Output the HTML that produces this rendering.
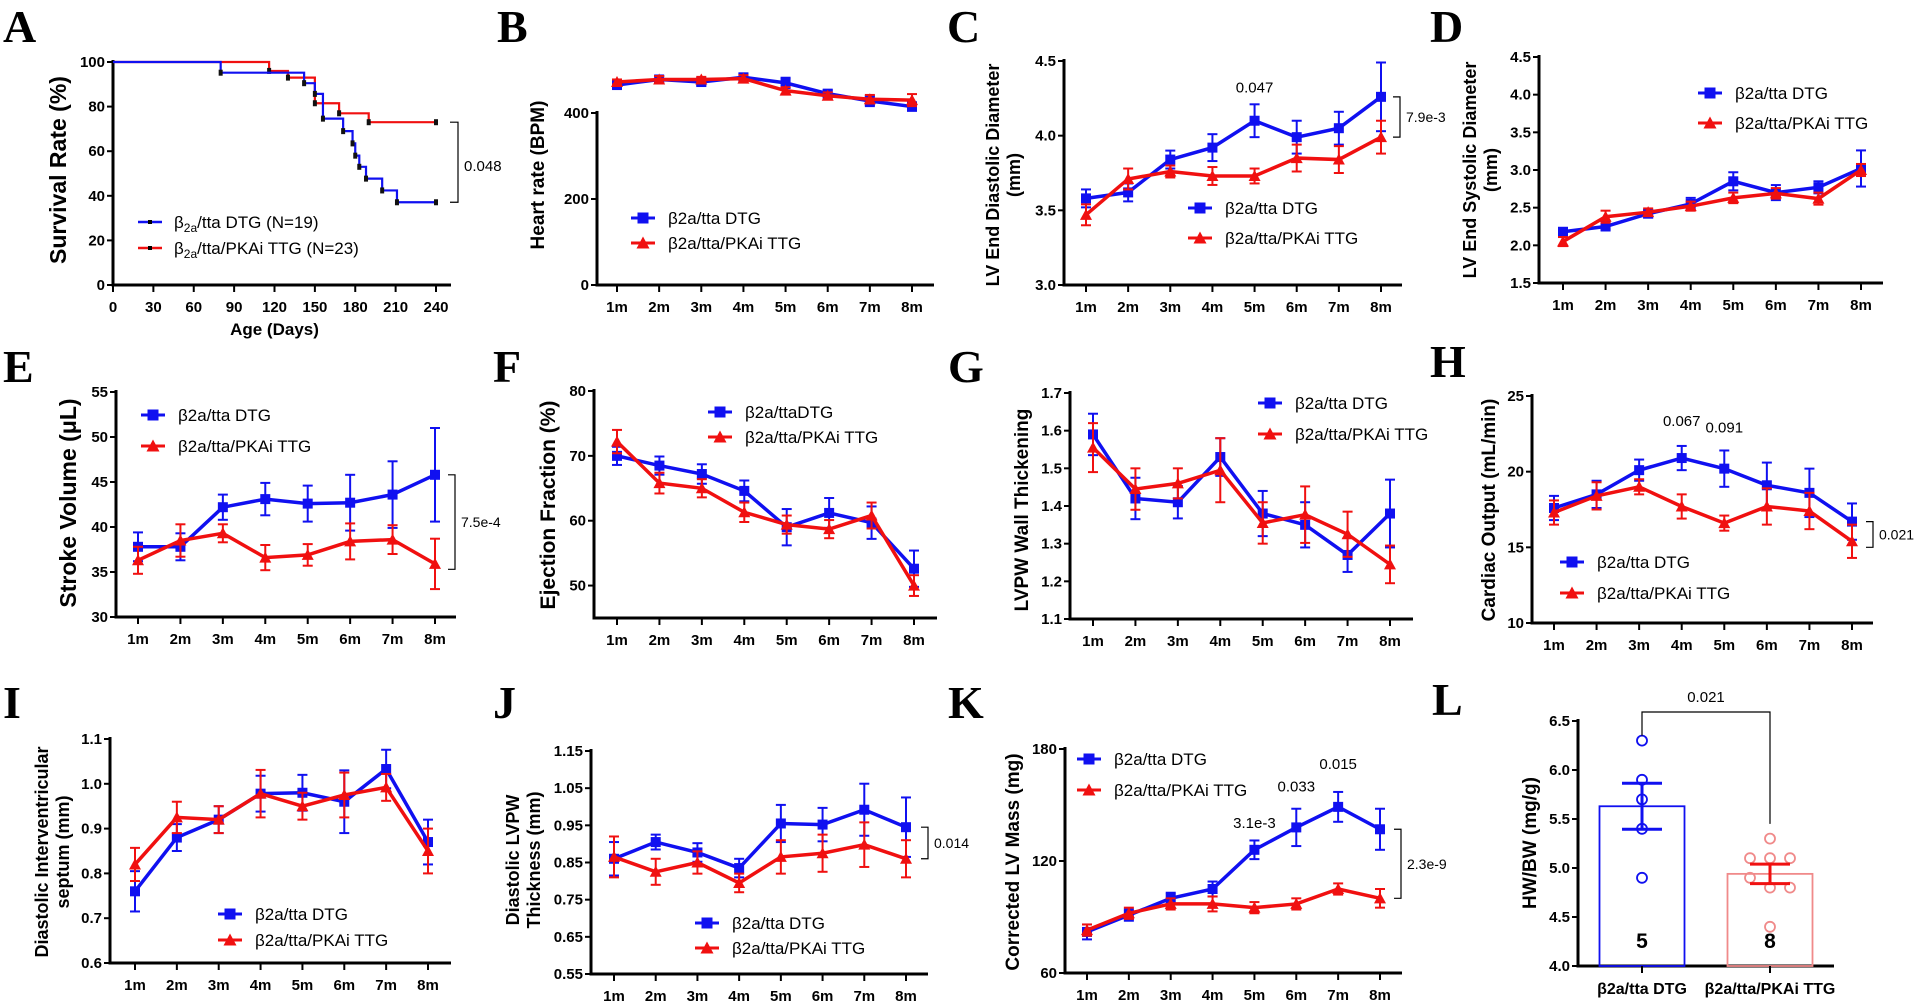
<!DOCTYPE html>
<html><head><meta charset="utf-8"><style>
html,body{margin:0;padding:0;background:#fff;}
svg{display:block;font-family:"Liberation Sans Narrow","Liberation Sans",sans-serif;}
.tick{font-weight:bold;font-size:15px;fill:#000;}
.ytitle{font-family:"Liberation Sans",sans-serif;font-weight:bold;fill:#000;}
.leg{font-size:17px;fill:#000;}
.letter{font-family:"Liberation Serif",serif;font-weight:bold;font-size:46px;fill:#000;}
.ann{font-size:15px;fill:#000;}
</style></head><body>
<svg id="fig" width="1920" height="1002" viewBox="0 0 1920 1002" xmlns="http://www.w3.org/2000/svg"></svg>
<script>
const months = ["1m","2m","3m","4m","5m","6m","7m","8m"];
// A survival
const survTicksX = [0,30,60,90,120,150,180,210,240];
const survTicksY = [0,20,40,60,80,100];
const survBlueT = [0,80,142,150,156,171,178,180,183,188,200,211,240];
const survBlueV = [100,95.2,90.5,85.7,74.6,69,63.5,58,53,47.7,42.4,37.1,37.1];
const survRedT = [0,116,130,150,168,190,240];
const survRedV = [100,96,93,81.5,77,73,73];
// B
const hrBlue = [465,478,472,483,470,445,428,415];
const hrBlueErr = [8,8,8,8,12,8,12,10];
const hrRed = [472,478,478,480,452,440,432,430];
const hrRedErr = [6,8,6,8,8,8,10,14];
// C
const lvedBlue = [3.58,3.62,3.84,3.92,4.10,3.99,4.05,4.26];
const lvedBlueErr = [0.06,0.06,0.06,0.09,0.11,0.11,0.11,0.23];
const lvedRed = [3.47,3.71,3.76,3.73,3.73,3.85,3.84,3.99];
const lvedRedErr = [0.07,0.07,0.04,0.06,0.05,0.09,0.09,0.11];
// D
const lvesBlue = [2.18,2.25,2.42,2.55,2.85,2.70,2.77,3.02];
const lvesBlueErr = [0.05,0.04,0.05,0.08,0.12,0.10,0.08,0.24];
const lvesRed = [2.05,2.38,2.44,2.52,2.63,2.69,2.62,3.00];
const lvesRedErr = [0.06,0.08,0.05,0.06,0.07,0.07,0.08,0.08];
// E
const svBlue = [37.8,37.8,42.2,43.1,42.6,42.7,43.6,45.8];
const svBlueErr = [1.6,1.5,1.4,1.8,2.0,3.1,3.7,5.2];
const svRed = [36.3,38.5,39.3,36.6,36.9,38.4,38.6,35.9];
const svRedErr = [1.5,1.8,1.0,1.4,1.2,2.0,1.6,2.8];
// F
const efBlue = [70,68.5,67.2,64.6,59,61.2,59.7,52.6];
const efBlueErr = [1.4,1.4,1.5,1.6,2.8,2.3,2.5,2.8];
const efRed = [72.2,65.8,65,61.3,59.4,58.7,60.8,50];
const efRedErr = [1.8,1.6,1.4,1.5,1.4,1.4,2.0,1.6];
// G
const wtBlue = [1.59,1.42,1.41,1.53,1.38,1.35,1.27,1.38];
const wtBlueErr = [0.055,0.055,0.043,0.05,0.06,0.06,0.045,0.09];
const wtRed = [1.555,1.445,1.46,1.495,1.355,1.377,1.325,1.245];
const wtRedErr = [0.065,0.055,0.04,0.085,0.055,0.075,0.06,0.05];
// H
const coBlue = [17.6,18.5,20.1,20.9,20.2,19.1,18.6,16.7];
const coBlueErr = [0.8,0.9,0.7,0.8,1.2,1.5,1.6,1.2];
const coRed = [17.3,18.4,19.0,17.7,16.6,17.7,17.4,15.4];
const coRedErr = [0.8,0.9,0.5,0.8,0.5,1.2,1.2,1.1];
// I
const ivsBlue = [0.76,0.88,0.92,0.978,0.98,0.96,1.033,0.87];
const ivsBlueErr = [0.045,0.03,0.03,0.04,0.04,0.07,0.043,0.05];
const ivsRed = [0.82,0.925,0.92,0.978,0.95,0.975,0.992,0.85];
const ivsRedErr = [0.037,0.035,0.03,0.053,0.03,0.05,0.03,0.05];
// J
const lvpwBlue = [0.86,0.905,0.877,0.835,0.955,0.952,0.992,0.945];
const lvpwBlueErr = [0.045,0.02,0.025,0.025,0.05,0.045,0.07,0.08];
const lvpwRed = [0.865,0.825,0.85,0.795,0.865,0.875,0.898,0.86];
const lvpwRedErr = [0.055,0.035,0.03,0.025,0.045,0.05,0.06,0.05];
// K
const massBlue = [82,91,100,105,126,138,149,137];
const massBlueErr = [4,3,3,4,5,10,8,11];
const massRed = [83,92,97,97,95,97,105,100];
const massRedErr = [3,3,3,4,3,3,3,5];
// L
const hwGroups = ["β2a/tta DTG","β2a/tta/PKAi TTG"];
const hwMeans = [5.63,4.94];
const hwSem = [0.235,0.1];
const hwBluePts = [6.3,5.9,5.7,5.4,4.9];
const hwRedPts = [5.3,5.1,5.1,5.1,4.9,4.8,4.8,4.4];
const hwCounts = ["5","8"];

const NS="http://www.w3.org/2000/svg";
const fig=document.getElementById('fig');
const BLUE="#1010f0", RED="#f01010";
function mk(tag,attrs,parent,txt){const e=document.createElementNS(NS,tag);for(const k in attrs)e.setAttribute(k,attrs[k]);if(txt!==undefined)e.textContent=txt;(parent||fig).appendChild(e);return e;}

function letter(ch,x,y){
  const t=mk('text',{x:x,y:y,class:'letter'},fig,ch);
  
  
}
function ytitle(g,lines,x,yc,size){
  lines.forEach((l,i)=>{
    const tx=x+i*21;
    const t=mk('text',{x:tx,y:yc,class:'ytitle',transform:`rotate(-90 ${tx} ${yc})`,'text-anchor':'middle',style:`font-size:${size||17}px`},g,l);
    
    
  });
}
function marker(g,type,x,y,col,s){
  if(type==='sq'){const m=mk('rect',{x:x-s/2,y:y-s/2,width:s,height:s,fill:col},g);return m;}
  const m=mk('polygon',{points:`${x},${y-s/2-1} ${x-s/2-1},${y+s/2} ${x+s/2+1},${y+s/2}`,fill:col},g);return m;
}
function legend(g,x,y1,y2,tx,t1,t2){
  [[y1,BLUE,'sq',t1],[y2,RED,'tri',t2]].forEach(([y,c,ty,t],i)=>{
    const lg=mk('g',{},g);
    
    
    mk('line',{x1:x-12,y1:y,x2:x+12,y2:y,stroke:c,'stroke-width':3},lg);
    marker(lg,ty,x,y,c,11);
    mk('text',{x:tx,y:y+6,class:'leg'},lg,t);
  });
}
function linePanel(c){
  const g=mk('g',{});
  
  
  const ys=v=>c.py0+(v-c.min)/(c.max-c.min)*(c.py1-c.py0);
  const xs=i=>c.p1+i*(c.p8-c.p1)/7;
  const ax=mk('path',{d:`M${c.ax},${ys(c.max)-2} L${c.ax},${c.py0} L${c.xend},${c.py0}`,fill:'none',stroke:'#000','stroke-width':3},g);
  
  
  c.ticks.forEach(v=>{
    const y=ys(v);
    mk('line',{x1:c.ax-6,y1:y,x2:c.ax,y2:y,stroke:'#000','stroke-width':2},g);
    const t=mk('text',{x:c.ax-8,y:y+5,class:'tick','text-anchor':'end'},g,c.fmt?c.fmt(v):v);
    
    
  });
  months.forEach((m,i)=>{
    const x=xs(i);
    mk('line',{x1:x,y1:c.py0,x2:x,y2:c.py0+7,stroke:'#000','stroke-width':2},g);
    const t=mk('text',{x:x,y:c.py0+27,class:'tick','text-anchor':'middle'},g,m);
    
    
  });
  [[c.blue,c.blueErr,BLUE,'sq','dtg'],[c.red,c.redErr,RED,'tri','ttg']].forEach(([vals,errs,col,ty,nm])=>{
    const sg=mk('g',{},g);
    
    
    vals.forEach((v,i)=>{
      const x=xs(i),a=ys(v+errs[i]),b=ys(v-errs[i]);
      mk('line',{x1:x,y1:a,x2:x,y2:b,stroke:col,'stroke-width':2},sg);
      mk('line',{x1:x-5,y1:a,x2:x+5,y2:a,stroke:col,'stroke-width':2},sg);
      mk('line',{x1:x-5,y1:b,x2:x+5,y2:b,stroke:col,'stroke-width':2},sg);
    });
    const ln=mk('polyline',{points:vals.map((v,i)=>xs(i)+','+ys(v)).join(' '),fill:'none',stroke:col,'stroke-width':3.5},sg);
    
    
    vals.forEach((v,i)=>{
      const m=marker(sg,ty,xs(i),ys(v),col,10);
      
      
    });
  });
  ytitle(g,c.title,c.tx,c.tyc,c.tsize);
  legend(g,c.lx,c.ly1,c.ly2,c.lx+25,c.l1||'β2a/tta DTG',c.l2||'β2a/tta/PKAi TTG');
  (c.ann||[]).forEach(a=>{
    const t=mk('text',{x:xs(a.i),y:ys(a.v)-a.dy,class:'ann','text-anchor':'middle'},g,a.t);
    
    
  });
  if(c.br){
    const y1=ys(c.br.v1),y2=ys(c.br.v2),bx=c.br.x;
    const b=mk('path',{d:`M${bx-7},${y1} L${bx},${y1} L${bx},${y2} L${bx-7},${y2}`,fill:'none',stroke:'#000','stroke-width':1.2},g);
    
    
    const t=mk('text',{x:bx+6,y:(y1+y2)/2+5,class:'ann',style:'font-size:14px'},g,c.br.t);
    
    
  }
}

// ---- Panel A
(function(){
  const g=mk('g',{});
  
  
  const x0=113,x1=436,y0=285,y1=62;
  const xs=d=>x0+d/240*(x1-x0), ys=v=>y0-v/100*(y0-y1);
  mk('path',{d:`M${x0},${y1-2} L${x0},${y0} L451,${y0}`,fill:'none',stroke:'#000','stroke-width':3},g);
  survTicksY.forEach(v=>{const y=ys(v);mk('line',{x1:x0-6,y1:y,x2:x0,y2:y,stroke:'#000','stroke-width':2},g);
    const t=mk('text',{x:x0-8,y:y+5,class:'tick','text-anchor':'end'},g,v);});
  survTicksX.forEach(v=>{const x=xs(v);mk('line',{x1:x,y1:y0,x2:x,y2:y0+7,stroke:'#000','stroke-width':2},g);
    const t=mk('text',{x:x,y:y0+27,class:'tick','text-anchor':'middle'},g,v);});
  const xt=mk('text',{x:(x0+x1)/2,y:335,class:'tick','text-anchor':'middle',style:'font-size:17px'},g,'Age (Days)');
  
  [[survRedT,survRedV,RED,'ttg'],[survBlueT,survBlueV,BLUE,'dtg']].forEach(([T,V,col,nm])=>{
    let d=`M${xs(T[0])},${ys(V[0])}`;
    for(let i=1;i<T.length;i++){d+=` L${xs(T[i])},${ys(V[i-1])} L${xs(T[i])},${ys(V[i])}`;}
    const p=mk('path',{d:d,fill:'none',stroke:col,'stroke-width':2.2},g);
    
    for(let i=1;i<T.length;i++){const m=mk('rect',{x:xs(T[i])-2,y:ys(V[i])-3,width:4,height:6,fill:'#111'},g);
      }
  });
  const b=mk('path',{d:`M${450},${ys(73)} L458,${ys(73)} L458,${ys(37.1)} L450,${ys(37.1)}`,fill:'none',stroke:'#000','stroke-width':1.2},g);
  
  const pl=mk('text',{x:464,y:171,class:'ann'},g,'0.048');
  ytitle(g,['Survival  Rate (%)'],66,170,23);
  [[222,BLUE,'β','2a','/tta DTG (N=19)'],[248,RED,'β','2a','/tta/PKAi TTG  (N=23)']].forEach(([y,c,a,s,r],i)=>{
    const lg=mk('g',{},g);
    
    
    mk('line',{x1:138,y1:y,x2:162,y2:y,stroke:c,'stroke-width':2.5},lg);
    mk('rect',{x:148,y:y-2,width:4,height:4,fill:'#000'},lg);
    const t=mk('text',{x:174,y:y+6,class:'leg'},lg);
    mk('tspan',{},t,a);mk('tspan',{style:'font-size:12px',dy:4},t,s);mk('tspan',{dy:-4},t,r);
  });
})();

linePanel({name:'panel-b-heart-rate',ax:597,xend:934,py0:285,py1:113,min:0,max:400,ticks:[0,200,400],p1:617,p8:912,
  blue:hrBlue,blueErr:hrBlueErr,red:hrRed,redErr:hrRedErr,title:['Heart rate (BPM)'],tx:544,tyc:175,tsize:19,
  lx:643,ly1:218,ly2:243,l1:'β2a/tta DTG'});
linePanel({name:'panel-c-lved',ax:1064,xend:1402,py0:285,py1:61,min:3.0,max:4.5,ticks:[3.0,3.5,4.0,4.5],fmt:v=>v.toFixed(1),p1:1086,p8:1381,
  blue:lvedBlue,blueErr:lvedBlueErr,red:lvedRed,redErr:lvedRedErr,title:['LV End Diastolic Diameter','(mm)'],tx:999,tyc:175,tsize:18,
  lx:1200,ly1:208,ly2:238,ann:[{i:4,v:4.10,dy:28,t:'0.047'}],br:{x:1400,v1:4.26,v2:3.99,t:'7.9e-3'}});
linePanel({name:'panel-d-lves',ax:1539,xend:1883,py0:283,py1:57,min:1.5,max:4.5,ticks:[1.5,2.0,2.5,3.0,3.5,4.0,4.5],fmt:v=>v.toFixed(1),p1:1563,p8:1861,
  blue:lvesBlue,blueErr:lvesBlueErr,red:lvesRed,redErr:lvesRedErr,title:['LV End Systolic Diameter','(mm)'],tx:1476,tyc:170,tsize:18,
  lx:1710,ly1:93,ly2:123});
linePanel({name:'panel-e-stroke-volume',ax:116,xend:456,py0:617,py1:392,min:30,max:55,ticks:[30,35,40,45,50,55],p1:138,p8:435,
  blue:svBlue,blueErr:svBlueErr,red:svRed,redErr:svRedErr,title:['Stroke Volume (μL)'],tx:76,tyc:503,tsize:23,
  lx:153,ly1:415,ly2:446,br:{x:455,v1:45.8,v2:35.3,t:'7.5e-4'}});
linePanel({name:'panel-f-ejection-fraction',ax:594,xend:937,py0:618,py1:391,min:45,max:80,ticks:[50,60,70,80],p1:617,p8:914,
  blue:efBlue,blueErr:efBlueErr,red:efRed,redErr:efRedErr,title:['Ejection Fraction (%)'],tx:555,tyc:505,tsize:21,
  lx:720,ly1:412,ly2:437,l1:'β2a/ttaDTG'});
linePanel({name:'panel-g-wall-thickening',ax:1070,xend:1413,py0:619,py1:393,min:1.1,max:1.7,ticks:[1.1,1.2,1.3,1.4,1.5,1.6,1.7],fmt:v=>v.toFixed(1),p1:1093,p8:1390,
  blue:wtBlue,blueErr:wtBlueErr,red:wtRed,redErr:wtRedErr,title:['LVPW Wall Thickening'],tx:1028,tyc:510,tsize:19,
  lx:1270,ly1:403,ly2:434});
linePanel({name:'panel-h-cardiac-output',ax:1532,xend:1873,py0:623,py1:396,min:10,max:25,ticks:[10,15,20,25],p1:1554,p8:1852,
  blue:coBlue,blueErr:coBlueErr,red:coRed,redErr:coRedErr,title:['Cardiac Output (mL/min)'],tx:1495,tyc:510,tsize:19,
  lx:1572,ly1:562,ly2:593,ann:[{i:3,v:20.9,dy:32,t:'0.067'},{i:4,v:20.2,dy:36,t:'0.091'}],br:{x:1873,v1:16.7,v2:15.0,t:'0.021'}});
linePanel({name:'panel-i-ivs',ax:110,xend:451,py0:963,py1:739,min:0.6,max:1.1,ticks:[0.6,0.7,0.8,0.9,1.0,1.1],fmt:v=>v.toFixed(1),p1:135,p8:428,
  blue:ivsBlue,blueErr:ivsBlueErr,red:ivsRed,redErr:ivsRedErr,title:['Diastolic Interventricular','septum (mm)'],tx:48,tyc:852,tsize:18,
  lx:230,ly1:914,ly2:940});
linePanel({name:'panel-j-lvpw',ax:591,xend:928,py0:974,py1:751,min:0.55,max:1.15,ticks:[0.55,0.65,0.75,0.85,0.95,1.05,1.15],fmt:v=>v.toFixed(2),p1:614,p8:906,
  blue:lvpwBlue,blueErr:lvpwBlueErr,red:lvpwRed,redErr:lvpwRedErr,title:['Diastolic LVPW','Thickness (mm)'],tx:519,tyc:860,tsize:18,
  lx:707,ly1:923,ly2:948,br:{x:928,v1:0.945,v2:0.86,t:'0.014'}});
linePanel({name:'panel-k-lv-mass',ax:1065,xend:1402,py0:973,py1:749,min:60,max:180,ticks:[60,120,180],p1:1087,p8:1380,
  blue:massBlue,blueErr:massBlueErr,red:massRed,redErr:massRedErr,title:['Corrected LV Mass (mg)'],tx:1019,tyc:862,tsize:19,
  lx:1089,ly1:759,ly2:790,ann:[{i:4,v:126,dy:22,t:'3.1e-3'},{i:5,v:138,dy:36,t:'0.033'},{i:6,v:149,dy:38,t:'0.015'}],br:{x:1401,v1:137,v2:100,t:'2.3e-9'}});

// ---- Panel L
(function(){
  const g=mk('g',{});
  
  
  const ax=1578,y0=966,y1=721,min=4.0,max=6.5;
  const ys=v=>y0-(v-min)/(max-min)*(y0-y1);
  const ticks=[4.0,4.5,5.0,5.5,6.0,6.5];
  mk('path',{d:`M${ax},${y1-2} L${ax},${y0} L1834,${y0}`,fill:'none',stroke:'#000','stroke-width':3},g);
  ticks.forEach(v=>{const y=ys(v);mk('line',{x1:ax-6,y1:y,x2:ax,y2:y,stroke:'#000','stroke-width':2},g);
    const t=mk('text',{x:ax-8,y:y+5,class:'tick','text-anchor':'end'},g,v.toFixed(1));});
  ytitle(g,['HW/BW (mg/g)'],1536,843,19);
  const bx=[1642,1770],bw=85,cols=[BLUE,'#f08a8a'],ptsArr=[hwBluePts,hwRedPts],ecol=[BLUE,RED];
  const jitter=[[0,0,0,0,0],[0,-20,0,20,-20,0,20,0]];
  hwMeans.forEach((m,i)=>{
    const bar=mk('rect',{x:bx[i]-bw/2,y:ys(m),width:bw,height:y0-ys(m),fill:'none',stroke:cols[i],'stroke-width':1.8},g);
    
    mk('line',{x1:bx[i],y1:y0,x2:bx[i],y2:y0+7,stroke:'#000','stroke-width':2},g);
    const t=mk('text',{x:bx[i],y:y0+28,class:'tick','text-anchor':'middle',style:'font-size:16px'},g,hwGroups[i]);
    
    const n=mk('text',{x:bx[i],y:y0-18,class:'tick','text-anchor':'middle',style:'font-size:21px'},g,hwCounts[i]);
    
    ptsArr[i].forEach((p,k)=>{const c=mk('circle',{cx:bx[i]+jitter[i][k],cy:ys(p),r:5,fill:'none',stroke:cols[i],'stroke-width':1.8},g);
      });
    const a=ys(m+hwSem[i]),b=ys(m-hwSem[i]);
    mk('line',{x1:bx[i],y1:a,x2:bx[i],y2:b,stroke:ecol[i],'stroke-width':3},g);
    mk('line',{x1:bx[i]-20,y1:a,x2:bx[i]+20,y2:a,stroke:ecol[i],'stroke-width':3},g);
    mk('line',{x1:bx[i]-20,y1:b,x2:bx[i]+20,y2:b,stroke:ecol[i],'stroke-width':3},g);
  });
  const br=mk('path',{d:`M${bx[0]},${ys(6.35)} L${bx[0]},712 L${bx[1]},712 L${bx[1]},${ys(5.45)}`,fill:'none',stroke:'#000','stroke-width':1.2},g);
  
  const pt=mk('text',{x:(bx[0]+bx[1])/2,y:702,class:'ann','text-anchor':'middle'},g,'0.021');
  
})();

[['A',3,42],['B',497,42],['C',947,42],['D',1430,42],['E',3,382],['F',493,382],['G',948,382],['H',1430,377],['I',3,718],['J',493,718],['K',948,718],['L',1432,715]].forEach(a=>letter(...a));
</script>
</body></html>
